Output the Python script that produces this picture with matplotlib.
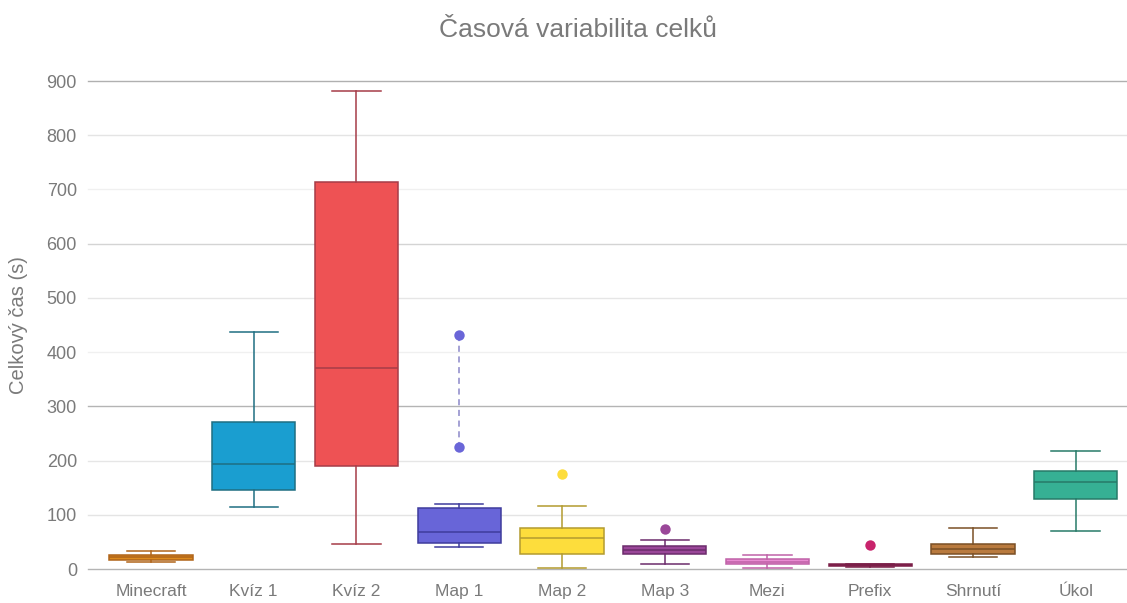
import matplotlib
matplotlib.use("Agg")
import matplotlib.pyplot as plt

plt.rcParams["font.family"] = ["Liberation Sans", "DejaVu Sans"]

# ── data ──
categories = ["Minecraft", "Kvíz 1", "Kvíz 2", "Map 1", "Map 2",
              "Map 3", "Mezi", "Prefix", "Shrnutí", "Úkol"]
whislo = [13, 115, 46, 41, 2, 10, 1, 3, 22, 70]
q1     = [16.5, 146, 190, 48, 27, 28, 8.5, 5, 28, 130]
med    = [21.5, 194, 371, 68, 57, 35, 13, 7, 37, 161]
q3     = [26, 272, 714, 113, 75, 42, 18, 10, 47, 180]
whishi = [33, 437, 882, 120, 116, 54, 26, 10, 75, 218]
fliers = [[], [], [], [432, 225], [175], [73], [], [44], [], []]

fills  = ["#dc8a1e", "#1a9ed0", "#ee5254", "#6865d8", "#fddd3c",
          "#9a4799", "#e98bd2", "#a52a5e", "#b97a3e", "#36b094"]
edges  = ["#b0651a", "#1f6f82", "#a63c48", "#3f3c9c", "#b39b2f",
          "#6c2c6c", "#c062a8", "#7a1f48", "#7a5026", "#277a68"]
dots   = ["#dc8a1e", "#1a9ed0", "#ee5254", "#6a66d8", "#fddd3c",
          "#9a4799", "#e98bd2", "#c8246c", "#b97a3e", "#36b094"]

yticks = [0, 100, 200, 300, 400, 500, 600, 700, 800, 900]
grid_colors = ["#b4b4b4", "#e4e4e4", "#e6e6e6", "#b4b4b4", "#f0f0f0",
               "#e6e6e6", "#d4d4d4", "#f0f0f0", "#e4e4e4", "#b0b0b0"]

text_gray = "#7a7a7a"

fig = plt.figure(figsize=(11.27, 6.03), dpi=100)
W, H = 1127, 603
ax = fig.add_axes([88 / W, (H - 569) / H, (1127 - 88) / W, (569 - 81) / H])

for y, c in zip(yticks, grid_colors):
    ax.axhline(y, color=c, lw=1.0, zorder=0)

for i, name in enumerate(categories):
    stats = [{"label": name, "whislo": whislo[i], "q1": q1[i], "med": med[i],
              "q3": q3[i], "whishi": whishi[i], "fliers": []}]
    ec = edges[i]
    ax.bxp(stats, positions=[i], widths=0.81, patch_artist=True,
           showfliers=False, capwidths=0.47,
           boxprops=dict(facecolor=fills[i], edgecolor=ec, linewidth=1.1),
           medianprops=dict(color=ec, linewidth=1.1),
           whiskerprops=dict(color=ec, linewidth=1.1),
           capprops=dict(color=ec, linewidth=1.1),
           manage_ticks=False)
    if fliers[i]:
        ys = fliers[i]
        if len(ys) > 1:
            ax.plot([i] * len(ys), ys, ls=(0, (4, 3)), color="#8b88c9",
                    lw=1.1, zorder=3)
        ax.plot([i] * len(ys), ys, "o", color=dots[i], ms=7.5,
                mec="none", zorder=4)

ax.set_xlim(-0.613, 9.5)
ax.set_ylim(0, 900)
ax.set_xticks(range(len(categories)))
ax.set_xticklabels(categories, fontsize=12.5, color=text_gray)
ax.set_yticks(yticks)
ax.set_yticklabels([str(v) for v in yticks], fontsize=13, color=text_gray)
ax.tick_params(axis="both", length=0)
ax.tick_params(axis="x", pad=11)
ax.tick_params(axis="y", pad=8)
for s in ax.spines.values():
    s.set_visible(False)
for art in ax.get_children():
    try:
        art.set_clip_on(False)
    except Exception:
        pass

ax.set_ylabel("Celkový čas (s)", fontsize=14.5, color=text_gray, labelpad=13)
fig.text(578 / W, 1 - 30 / H, "Časová variabilita celků", fontsize=19,
         color=text_gray, ha="center", va="center")

fig.savefig("out.png", dpi=100)
